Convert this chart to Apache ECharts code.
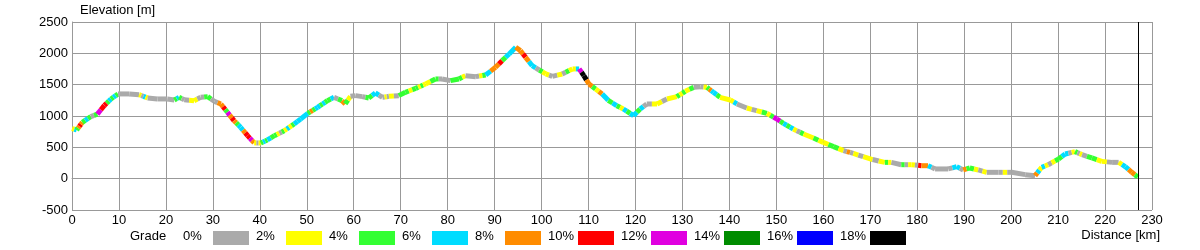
<!DOCTYPE html>
<html><head><meta charset="utf-8">
<script src="https://cdn.jsdelivr.net/npm/echarts@6/dist/echarts.min.js"></script>
<style>html,body{margin:0;padding:0;background:#fff}#c{width:1200px;height:250px}</style>
</head><body><div id="c"></div>
<script>
// Distance along route [km]
const dist = [
  0, 1.0, 2.2, 4.0, 5.4, 6.9, 8.3, 9.8, 12.2, 14.3, 16.1, 18.2, 20.3, 21.8, 22.8, 23.9, 26.0, 27.4, 28.9, 30.3, 31.7, 33.1, 34.5, 35.9, 37.4, 38.8, 40.2, 41.6, 43.1, 45.2, 47.3, 48.7, 50.2, 52.3, 54.4, 55.8,
  57.5, 58.2, 59.3, 60.4, 61.8, 63.2, 64.6, 66.1, 67.5, 69.6, 71.0, 73.2, 75.3, 77.4, 78.8, 80.6, 82.4, 83.8, 86.0, 88.1, 90.2, 91.6, 93.1, 94.5, 95.5, 96.6, 98.0, 99.5, 100.9, 102.3, 104.4, 106.6, 108.0, 109.0, 110.1, 111.5, 112.9,
  114.2, 116.0, 117.4, 119.6, 121.0, 122.4, 124.6, 126.7, 128.8, 130.6, 132.4, 133.8, 135.2, 136.6, 138.0, 140.2, 141.6, 143.7, 145.8, 148.0, 150.1, 151.5, 153.6, 155.8, 157.9, 160.0, 162.2, 164.3, 166.4, 168.5, 170.5,
  173.1, 174.5, 176.6, 178.8, 180.9, 182.3, 183.8, 186.6, 188.4, 189.8, 191.2, 193.0, 194.8, 197.3, 200.1, 203.0, 205.1, 206.5, 207.9, 210.1, 211.5, 213.6, 215.1, 217.2, 219.3, 221.5, 222.9, 224.3, 225.7, 227.0
];
// Elevation [m]
const elev = [
  800, 777, 899, 990, 1030, 1170, 1272, 1352, 1352, 1340, 1288, 1272, 1272, 1256, 1298, 1260, 1245, 1298, 1309, 1234, 1192, 1059, 926, 819, 686, 570, 570, 618, 686, 766, 873, 952, 1042, 1138, 1245, 1298,
  1245, 1192, 1314, 1325, 1309, 1288, 1368, 1298, 1314, 1325, 1378, 1441, 1511, 1591, 1591, 1564, 1591, 1644, 1628, 1655, 1777, 1883, 1990, 2096, 2043, 1936, 1803, 1734, 1671, 1633, 1671, 1751, 1751, 1644, 1511, 1432, 1352,
  1250, 1165, 1112, 1005, 1112, 1192, 1192, 1272, 1309, 1394, 1457, 1468, 1457, 1378, 1298, 1256, 1192, 1128, 1085, 1042, 952, 883, 793, 713, 649, 579, 511, 447, 404, 351, 305,
  260, 260, 223, 223, 207, 207, 155, 155, 192, 139, 171, 139, 101, 101, 101, 64, 48, 181, 223, 314, 394, 431, 383, 330, 276, 260, 260, 192, 101, 25
];
// Grade class of each segment (ending at point i+1); a string holds the colour runs read along that segment
const gradeCodes = [
  "13","2454","232","02","65","523","232","0","0","1031","0","0","0","23","20","01","10","02","20","04","452","645","423","345","564","101","232","32","2102","1312","33","3","2423","3232","23",
  "02","4","21","0","0","02","23","30","010","10","2","212","2121","12","20","0","2","21","0","012","34","45","23","3","4","45","43","30","21","10","01","021","13","69","94","42","14",
  "3","23","21","323","32","30","01","10","1","212","12","0","01","243","32","1","13","0","10","12","126","62","323","102","1","21","12","21","040","10","1",
  "01","21","0","201","105","4","30","0","03","30","42","21","01","0","010","0","0","431","31","012","23","301","201","02","21","10","0","13","34","42"
];
const gradeLabels = ["0%","2%","4%","6%","8%","10%","12%","14%","16%","18%"];
const gradeColors = ["#aaaaaa","#ffff00","#33ff33","#00dcff","#ff8c00","#ff0000","#e000e0","#008c00","#0000ff","#000000"];
const xTicks = {min: 0, max: 230, interval: 10};
const yTicks = {min: -500, max: 2500, interval: 500};
const endMarker = 227.0;

const F = "'Liberation Sans', Arial, sans-serif";
const segData = [];
for (let i = 1; i < dist.length; i++) segData.push([dist[i-1], elev[i-1], dist[i], elev[i], i-1]);

const chart = echarts.init(document.getElementById('c'), null, {renderer: 'canvas'});
const graphic = [
  {type:'text', left: 80, top: 4, style:{text:'Elevation [m]', font:'13px ' + F, fill:'#000'}},
  {type:'text', right: 40, top: 229, style:{text:'Distance [km]', font:'13px ' + F, fill:'#000'}},
  {type:'text', left: 130, top: 230, style:{text:'Grade', font:'13px ' + F, fill:'#000'}}
];
gradeLabels.forEach((lab, i) => {
  graphic.push({type:'text', left: 183 + 73*i, top: 230, style:{text: lab, font:'13px ' + F, fill:'#000'}});
  graphic.push({type:'rect', left: 213 + 73*i, top: 231, shape:{width:36, height:14}, style:{fill: gradeColors[i]}});
});

const axisCommon = {
  axisLine:{show:true, lineStyle:{color:'#999', width:1}},
  axisTick:{show:false},
  splitLine:{show:true, lineStyle:{color:'#999', width:1}},
  axisLabel:{color:'#000', fontSize:13, fontFamily:F, margin:4, formatter: v => String(v)}
};
chart.setOption({
  animation: false,
  grid: {left: 72, right: 48, top: 22, bottom: 40},
  xAxis: Object.assign({type:'value', min:xTicks.min, max:xTicks.max, interval:xTicks.interval}, axisCommon),
  yAxis: Object.assign({type:'value', min:yTicks.min, max:yTicks.max, interval:yTicks.interval}, axisCommon),
  graphic: graphic,
  series: [
    {
      type: 'custom',
      data: segData,
      encode: {x: [0, 2], y: [1, 3]},
      renderItem: function (params, api) {
        const p0 = api.coord([api.value(0), api.value(1)]);
        const p1 = api.coord([api.value(2), api.value(3)]);
        const code = gradeCodes[api.value(4)];
        const n = code.length;
        const children = [];
        for (let k = 0; k < n; k++) {
          const a = k / n, b = (k + 1) / n;
          children.push({
            type: 'line',
            shape: {x1: p0[0] + (p1[0]-p0[0])*a, y1: p0[1] + (p1[1]-p0[1])*a,
                    x2: p0[0] + (p1[0]-p0[0])*b, y2: p0[1] + (p1[1]-p0[1])*b},
            style: {stroke: gradeColors[+code[k]], lineWidth: 5, lineCap: 'butt'}
          });
        }
        return {type: 'group', children: children};
      },
      z: 3
    },
    {
      type: 'line', data: [], silent: true,
      markLine: {silent: true, symbol: 'none', label: {show: false},
        lineStyle: {color: '#000', width: 1, type: 'solid'},
        data: [{xAxis: endMarker}]}
    }
  ]
});
</script></body></html>
